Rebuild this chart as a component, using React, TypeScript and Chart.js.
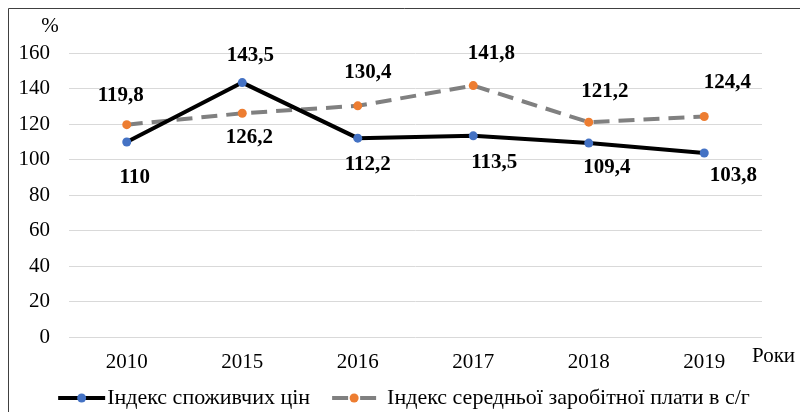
import { useEffect, useRef } from "react";
import { Chart, registerables } from "chart.js";

Chart.register(...registerables);

// ---- data ----
const years = ["2010", "2015", "2016", "2017", "2018", "2019"];
const cpiValues = [110, 143.5, 112.2, 113.5, 109.4, 103.8];
const wageValues = [119.8, 126.2, 130.4, 141.8, 121.2, 124.4];
const cpiName = "Індекс споживчих цін";
const wageName = "Індекс середньої заробітної плати в с/г";
const yAxisTitle = "%";
const xAxisTitle = "Роки";
const yMin = 0;
const yMax = 160;
const yStep = 20;

// ---- styles ----
const FONT = '"Liberation Serif", "Times New Roman", serif';
const FS = 21;
const LEGEND_FS = 22;
const cpiLine = "#000000";
const cpiPoint = "#4472C4";
const wageLine = "#808080";
const wagePoint = "#ED7D31";
const gridColor = "#d9d9d9";
const dash = [16, 9];
// label offsets (dx, dy) from each point, per dataset
const labelOffsets = [
  [[8, 36], [8, -27], [10, 26], [21, 27], [18, 24], [29, 23]],
  [[-6, -29], [7, 24], [10, -33], [18, -32], [16, -31], [23, -34]],
];

const fmt = (v: number) => String(v).replace(".", ",");

const overlay = {
  id: "overlay",
  afterDatasetsDraw(chart: any) {
    const ctx = chart.ctx;
    ctx.save();
    ctx.font = `bold ${FS}px ${FONT}`;
    ctx.fillStyle = "#000";
    ctx.textAlign = "center";
    ctx.textBaseline = "middle";
    chart.data.datasets.forEach((ds: any, di: number) => {
      const meta = chart.getDatasetMeta(di);
      meta.data.forEach((pt: any, i: number) => {
        const [dx, dy] = labelOffsets[di][i];
        ctx.fillText(fmt(ds.data[i]), pt.x + dx, pt.y + dy);
      });
    });
    ctx.restore();
  },
  afterDraw(chart: any) {
    const ctx = chart.ctx;
    const area = chart.chartArea;
    ctx.save();
    // outer frame
    ctx.strokeStyle = "#404040";
    ctx.lineWidth = 1;
    ctx.beginPath();
    ctx.moveTo(8.5, chart.height);
    ctx.lineTo(8.5, 8.5);
    ctx.lineTo(chart.width, 8.5);
    ctx.stroke();

    // axis titles
    ctx.font = `${FS}px ${FONT}`;
    ctx.fillStyle = "#000";
    ctx.textBaseline = "middle";
    ctx.textAlign = "center";
    ctx.fillText(yAxisTitle, area.left - 19, area.top - 27);
    ctx.textAlign = "left";
    ctx.fillText(xAxisTitle, area.right - 10, area.bottom + 19);

    // legend
    ctx.font = `${LEGEND_FS}px ${FONT}`;
    const y = 398;
    const w1 = ctx.measureText(cpiName).width;
    const w2 = ctx.measureText(wageName).width;
    const s1 = 47, g1 = 2, sp = 22, s2 = 44, g2 = 11;
    const total = s1 + g1 + w1 + sp + s2 + g2 + w2;
    let x = 404 - total / 2;
    // item 1
    ctx.strokeStyle = cpiLine;
    ctx.lineWidth = 4;
    ctx.beginPath();
    ctx.moveTo(x, y);
    ctx.lineTo(x + s1, y);
    ctx.stroke();
    ctx.fillStyle = cpiPoint;
    ctx.beginPath();
    ctx.arc(x + s1 / 2, y, 4.5, 0, Math.PI * 2);
    ctx.fill();
    ctx.fillStyle = "#000";
    ctx.fillText(cpiName, x + s1 + g1, y);
    x += s1 + g1 + w1 + sp;
    // item 2
    ctx.strokeStyle = wageLine;
    ctx.lineWidth = 4;
    ctx.beginPath();
    ctx.moveTo(x, y);
    ctx.lineTo(x + 16, y);
    ctx.moveTo(x + s2 - 16, y);
    ctx.lineTo(x + s2, y);
    ctx.stroke();
    ctx.fillStyle = wagePoint;
    ctx.beginPath();
    ctx.arc(x + s2 / 2, y, 4.5, 0, Math.PI * 2);
    ctx.fill();
    ctx.fillStyle = "#000";
    ctx.fillText(wageName, x + s2 + g2, y);
    ctx.restore();
  },
};

export default function App() {
  const ref = useRef<HTMLCanvasElement | null>(null);
  useEffect(() => {
    document.body.style.margin = "0";
    document.body.style.overflow = "hidden";
    const canvas = ref.current;
    if (!canvas) return;
    const chart = new Chart(canvas, {
      type: "line",
      data: {
        labels: years,
        datasets: [
          {
            label: cpiName,
            data: cpiValues,
            borderColor: cpiLine,
            borderWidth: 4,
            pointBackgroundColor: cpiPoint,
            pointBorderWidth: 0,
            pointRadius: 4.5,
            pointHoverRadius: 4.5,
            tension: 0,
            order: 1,
          },
          {
            label: wageName,
            data: wageValues,
            borderColor: wageLine,
            borderWidth: 4,
            borderDash: dash,
            pointBackgroundColor: wagePoint,
            pointBorderWidth: 0,
            pointRadius: 4.5,
            pointHoverRadius: 4.5,
            tension: 0,
            order: 2,
          },
        ],
      },
      options: {
        animation: false,
        responsive: false,
        maintainAspectRatio: false,
        events: [],
        layout: { padding: { top: 53.3, right: 38, left: 0, bottom: 0 } },
        plugins: {
          legend: { display: false },
          tooltip: { enabled: false },
        },
        scales: {
          x: {
            offset: true,
            grid: { display: false, drawTicks: false },
            border: { display: false },
            ticks: {
              color: "#000",
              font: { family: FONT, size: FS },
              padding: 13,
              maxRotation: 0,
            },
            afterFit: (s: any) => {
              s.height = 74.7;
            },
          },
          y: {
            min: yMin,
            max: yMax,
            grid: { color: gridColor, lineWidth: 1, drawTicks: false },
            border: { display: false },
            ticks: {
              stepSize: yStep,
              color: "#000",
              font: { family: FONT, size: FS },
              padding: 19,
            },
            afterFit: (s: any) => {
              s.width = 69;
            },
          },
        },
      },
      plugins: [overlay],
    });
    return () => chart.destroy();
  }, []);
  return (
    <canvas
      ref={ref}
      width={800}
      height={412}
      style={{ display: "block", width: 800, height: 412 }}
    />
  );
}
